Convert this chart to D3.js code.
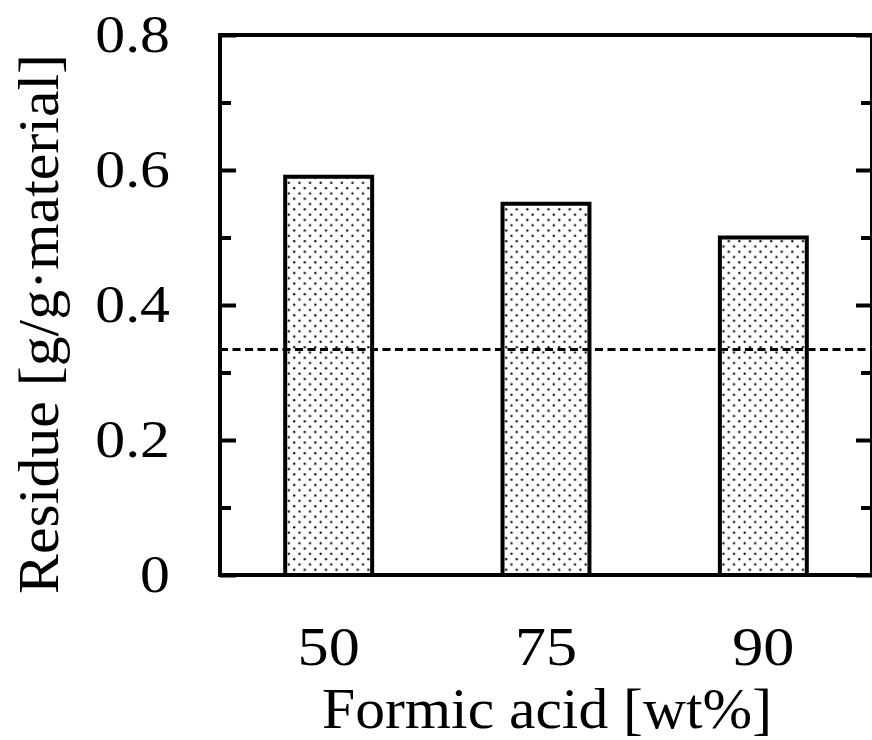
<!DOCTYPE html>
<html>
<head>
<meta charset="utf-8">
<script src="https://cdn.jsdelivr.net/npm/d3@7"></script>
<style>
  html, body { margin: 0; padding: 0; background: #fff; }
  svg { display: block; }
</style>
</head>
<body>
<svg id="chart" width="872" height="740"></svg>
<script>
const categories = ["50", "75", "90"];
const residue = [0.59, 0.55, 0.50];
const referenceLine = 0.334;
const majorTicks = [0, 0.2, 0.4, 0.6, 0.8];
const minorTicks = [0.1, 0.3, 0.5, 0.7];
const xTitle = "Formic acid [wt%]";
const yTitle = "Residue [g/g\u00B7material]";

(function () {
const svg = d3.select("#chart");
const mLeft = 220, mRight = 872, mTop = 35, mBottom = 575;
const FONT = "'Liberation Serif', 'Times New Roman', serif";
const SX = 1.15; // horizontal stretch for tick labels

const x = d3.scaleBand().domain(categories).range([mLeft, mRight]).paddingInner(0.6).paddingOuter(0.3);
const y = d3.scaleLinear().domain([0, 0.8]).range([mBottom, mTop]);

// dot pattern
const defs = svg.append("defs");
const pat = defs.append("pattern").attr("id", "dots").attr("patternUnits", "userSpaceOnUse")
  .attr("width", 10.6).attr("height", 10.6);
pat.append("rect").attr("width", 10.6).attr("height", 10.6).attr("fill", "#fff");
pat.append("circle").attr("cx", 2.65).attr("cy", 2.65).attr("r", 1.2).attr("fill", "#111");
pat.append("circle").attr("cx", 7.95).attr("cy", 7.95).attr("r", 1.2).attr("fill", "#111");

// bars
svg.append("g").selectAll("rect").data(categories).join("rect")
  .attr("x", d => x(d))
  .attr("y", (d, i) => y(residue[i]))
  .attr("width", x.bandwidth())
  .attr("height", (d, i) => y(0) - y(residue[i]))
  .attr("fill", "url(#dots)")
  .attr("stroke", "#000")
  .attr("stroke-width", 4);

// dashed reference line
svg.append("line")
  .attr("x1", mLeft).attr("x2", mRight)
  .attr("y1", y(referenceLine)).attr("y2", y(referenceLine))
  .attr("stroke", "#000").attr("stroke-width", 3)
  .attr("stroke-dasharray", "8,4.5");

// left axis (inward ticks)
const yAxisL = svg.append("g").attr("transform", `translate(${mLeft},0)`)
  .call(d3.axisLeft(y).tickValues(majorTicks).tickSize(-16).tickSizeOuter(0).tickPadding(50)
    .tickFormat(d => d === 0 ? "0" : d3.format(".1f")(d)));
yAxisL.select(".domain").remove();
yAxisL.selectAll("line").attr("stroke", "#000").attr("stroke-width", 4);
yAxisL.selectAll("text").attr("font-family", FONT).attr("font-size", 52).attr("fill", "#000")
  .attr("x", -50 / SX).attr("transform", `scale(${SX},1)`);

const yMinL = svg.append("g").attr("transform", `translate(${mLeft},0)`)
  .call(d3.axisLeft(y).tickValues(minorTicks).tickSize(-11).tickSizeOuter(0).tickFormat(""));
yMinL.select(".domain").remove();
yMinL.selectAll("line").attr("stroke", "#000").attr("stroke-width", 4);

// right axis (inward ticks)
const yAxisR = svg.append("g").attr("transform", `translate(${mRight},0)`)
  .call(d3.axisRight(y).tickValues(majorTicks).tickSize(-16).tickSizeOuter(0).tickFormat(""));
yAxisR.select(".domain").remove();
yAxisR.selectAll("line").attr("stroke", "#000").attr("stroke-width", 4);
const yMinR = svg.append("g").attr("transform", `translate(${mRight},0)`)
  .call(d3.axisRight(y).tickValues(minorTicks).tickSize(-11).tickSizeOuter(0).tickFormat(""));
yMinR.select(".domain").remove();
yMinR.selectAll("line").attr("stroke", "#000").attr("stroke-width", 4);

// x axis labels
const xAxis = svg.append("g").attr("transform", `translate(0,${mBottom})`)
  .call(d3.axisBottom(x).tickSize(0).tickSizeOuter(0));
xAxis.select(".domain").remove();
xAxis.selectAll("text").attr("y", 90).attr("dy", 0)
  .attr("font-family", FONT).attr("font-size", 54).attr("fill", "#000")
  .attr("transform", `scale(${SX},1)`);

// frame
svg.append("rect").attr("x", mLeft).attr("y", mTop)
  .attr("width", mRight - mLeft).attr("height", mBottom - mTop)
  .attr("fill", "none").attr("stroke", "#000").attr("stroke-width", 4);

// titles
svg.append("text").attr("x", 547).attr("y", 728).attr("text-anchor", "middle")
  .attr("font-family", FONT).attr("font-size", 57).attr("fill", "#000")
  .attr("textLength", 450).attr("lengthAdjust", "spacingAndGlyphs").text(xTitle);
svg.append("text").attr("transform", "translate(58,324) rotate(-90)").attr("text-anchor", "middle")
  .attr("font-family", FONT).attr("font-size", 58).attr("fill", "#000")
  .attr("textLength", 540).attr("lengthAdjust", "spacingAndGlyphs").text(yTitle);
})();
</script>
</body>
</html>
